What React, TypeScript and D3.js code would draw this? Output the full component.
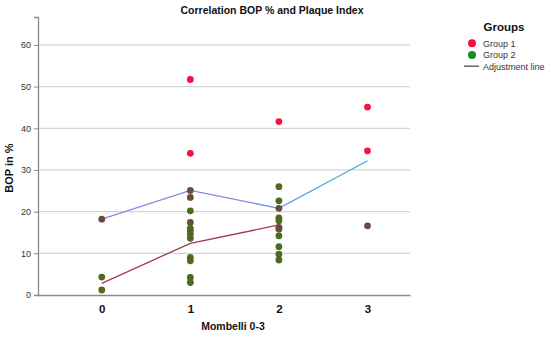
import React, { useRef, useEffect } from 'react';
import * as d3 from 'd3';

// Mombelli index (x) vs BOP % (y)
const group1Points: [number, number][] = [
  [1, 51.7], [1, 34.0], [2, 41.6], [3, 45.1], [3, 34.6],
];
const group2Points: [number, number][] = [
  [0, 4.3], [0, 1.2],
  [1, 20.2], [1, 16.0], [1, 15.4], [1, 14.6], [1, 13.6], [1, 9.0], [1, 8.2], [1, 4.2], [1, 3.0],
  [2, 26.0], [2, 22.6], [2, 18.5], [2, 17.8], [2, 15.8], [2, 14.2], [2, 11.6], [2, 9.8], [2, 8.4],
];
// group 1 markers drawn over group 2 markers (blended colour)
const overlapPoints: [number, number][] = [
  [0, 18.2], [1, 25.1], [1, 23.4], [1, 17.4], [2, 20.8], [2, 16.2], [3, 16.6],
];
const group1Line: [number, number][] = [[0, 18.2], [1, 25.1], [2, 20.8], [3, 32.2]];
const group2Line: [number, number][] = [[0, 2.8], [1, 12.4], [2, 16.8]];
const xTicks = [0, 1, 2, 3];
const yTicks = [0, 10, 20, 30, 40, 50, 60];
const legendItems = ['Group 1', 'Group 2', 'Adjustment line'];

const W = 550, H = 339;
const FONT = '"Liberation Sans", Arial, sans-serif';

export default function App() {
  const svgRef = useRef<SVGSVGElement>(null);

  useEffect(() => {
    const svg = d3.select(svgRef.current as SVGSVGElement);
    svg.selectAll('*').remove();

    const x = d3.scaleLinear().domain([-0.72, 3.48]).range([38, 410]);
    const y = d3.scaleLinear().domain([0, 66.7]).range([295, 17]);

    // line gradient (SPSS-style colour shift along the fit line)
    const defs = svg.append('defs');
    const g1 = defs.append('linearGradient').attr('id', 'g1grad')
      .attr('gradientUnits', 'userSpaceOnUse')
      .attr('x1', x(0)).attr('x2', x(3)).attr('y1', 0).attr('y2', 0);
    g1.append('stop').attr('offset', '0%').attr('stop-color', '#9583e0');
    g1.append('stop').attr('offset', '60%').attr('stop-color', '#7a8ae6');
    g1.append('stop').attr('offset', '100%').attr('stop-color', '#35b6d6');

    // gridlines
    svg.append('g').selectAll('line').data(yTicks.filter(d => d > 0)).join('line')
      .attr('x1', x(-0.72)).attr('x2', x(3.48))
      .attr('y1', d => y(d)).attr('y2', d => y(d))
      .attr('stroke', '#d4d4d4').attr('stroke-width', 1.2);

    // axes
    const yAxis = svg.append('g').attr('transform', `translate(${x(-0.72)},0)`)
      .call(d3.axisLeft(y).tickValues(yTicks).tickSize(4).tickFormat(d3.format('d')));
    yAxis.select('.domain').attr('stroke', '#8a8a8a').attr('stroke-width', 1.3);
    yAxis.selectAll('.tick line').attr('stroke', '#8a8a8a');
    yAxis.selectAll('.tick text').attr('font-family', FONT).attr('font-size', 9).attr('fill', '#333');

    const xAxis = svg.append('g').attr('transform', `translate(0,${y(0)})`)
      .call(d3.axisBottom(x).tickValues(xTicks).tickSize(0).tickPadding(10).tickFormat(d3.format('d')));
    xAxis.select('.domain').attr('stroke', '#8a8a8a').attr('stroke-width', 1.3);
    xAxis.selectAll('.tick text').attr('font-family', FONT).attr('font-size', 11.5)
      .attr('font-weight', 'bold').attr('fill', '#111');

    // adjustment lines
    const line = d3.line<[number, number]>().x(d => x(d[0])).y(d => y(d[1]));
    svg.append('path').datum(group1Line).attr('d', line).attr('fill', 'none')
      .attr('stroke', 'url(#g1grad)').attr('stroke-width', 1.3);
    svg.append('path').datum(group2Line).attr('d', line).attr('fill', 'none')
      .attr('stroke', '#a3394f').attr('stroke-width', 1.3);

    // points
    const drawPts = (pts: [number, number][], color: string) =>
      svg.append('g').selectAll('circle').data(pts).join('circle')
        .attr('cx', d => x(d[0])).attr('cy', d => y(d[1])).attr('r', 3.4).attr('fill', color);
    drawPts(group2Points, '#4d6a1e');
    drawPts(overlapPoints, '#6a4c3e');
    drawPts(group1Points, '#f0143c');

    // title and axis labels
    svg.append('text').attr('x', 272).attr('y', 14).attr('text-anchor', 'middle')
      .attr('font-family', FONT).attr('font-size', 10.5).attr('font-weight', 'bold').attr('fill', '#111')
      .text('Correlation BOP % and Plaque Index');
    svg.append('text').attr('x', 233).attr('y', 330).attr('text-anchor', 'middle')
      .attr('font-family', FONT).attr('font-size', 10.5).attr('font-weight', 'bold').attr('fill', '#111')
      .text('Mombelli 0-3');
    svg.append('text').attr('transform', 'translate(13,168) rotate(-90)').attr('text-anchor', 'middle')
      .attr('font-family', FONT).attr('font-size', 11).attr('font-weight', 'bold').attr('fill', '#111')
      .text('BOP in %');

    // legend
    const lg = svg.append('g');
    lg.append('text').attr('x', 504).attr('y', 31).attr('text-anchor', 'middle')
      .attr('font-family', FONT).attr('font-size', 11.5).attr('font-weight', 'bold').attr('fill', '#111')
      .text('Groups');
    const swatch = ['#f0143c', '#1a8a2c'];
    legendItems.forEach((label, i) => {
      const cy = 43.3 + i * 11.7;
      if (i < 2) {
        lg.append('circle').attr('cx', 472).attr('cy', cy).attr('r', 4).attr('fill', swatch[i]);
      } else {
        lg.append('line').attr('x1', 464).attr('x2', 479).attr('y1', cy - 0.5).attr('y2', cy - 0.5)
          .attr('stroke', '#666').attr('stroke-width', 1.5);
      }
      lg.append('text').attr('x', 483).attr('y', cy + 3.3)
        .attr('font-family', FONT).attr('font-size', 9).attr('fill', '#333').text(label);
    });
  }, []);

  return (
    <svg ref={svgRef} width={W} height={H}
      style={{ position: 'absolute', left: 0, top: 0, background: '#fff' }} />
  );
}
